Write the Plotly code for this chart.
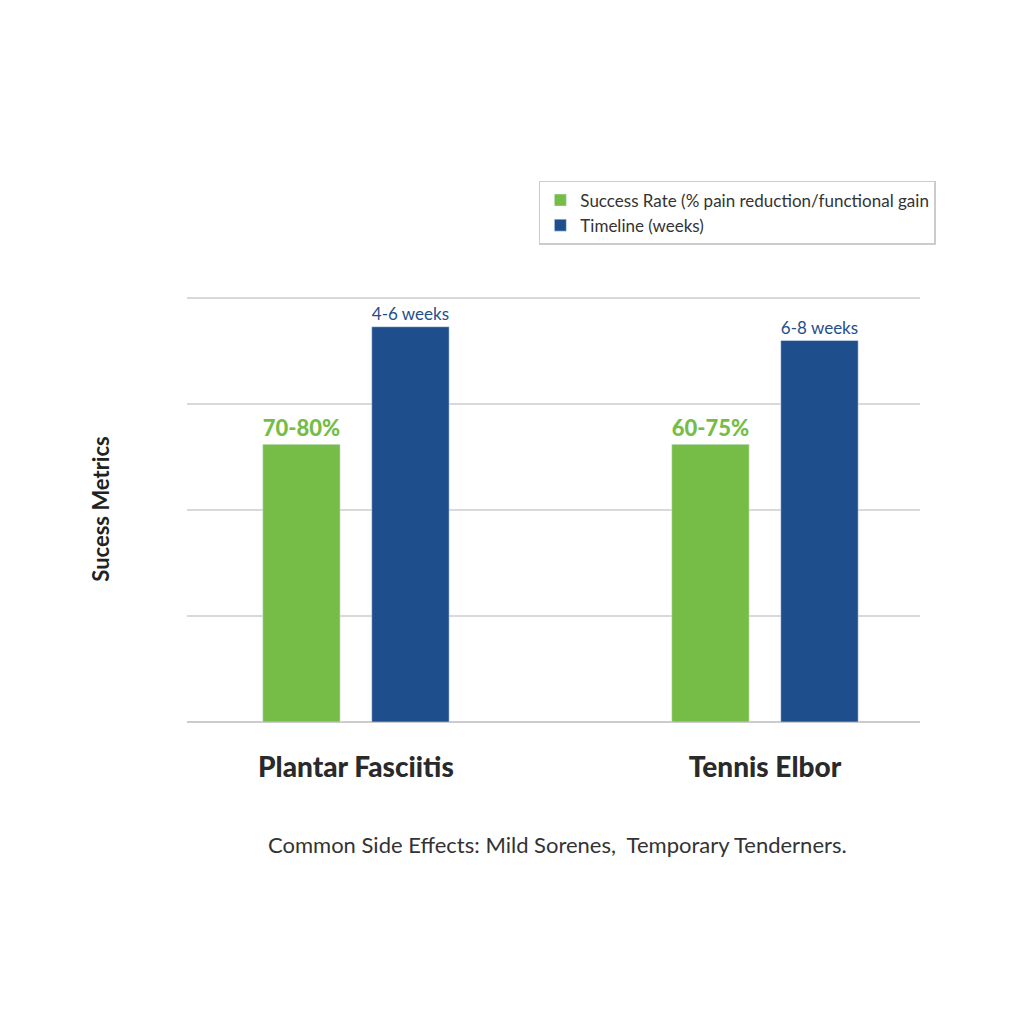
import plotly.graph_objects as go

conditions = ["Plantar Fasciitis", "Tennis Elbor"]
success_vals = [2.62, 2.62]
success_labels = ["70-80%", "60-75%"]
timeline_vals = [3.73, 3.6]
timeline_labels = ["4-6 weeks", "6-8 weeks"]

green = "#76bd47"
blue = "#1f4e8c"

fig = go.Figure()
fig.add_trace(go.Bar(x=conditions, y=success_vals, name="Success Rate (% pain reduction/functional gain",
                     marker_color=green, text=success_labels, textposition="outside",
                     textfont=dict(color=green, size=22, family="Lato Black"), cliponaxis=False))
fig.add_trace(go.Bar(x=conditions, y=timeline_vals, name="Timeline (weeks)",
                     marker_color=blue, text=timeline_labels, textposition="outside",
                     textfont=dict(color=blue, size=20, family="Lato"), cliponaxis=False))

fig.update_layout(
    width=1024, height=1024,
    paper_bgcolor="white", plot_bgcolor="white",
    font=dict(family="Lato", color="#333333"),
    margin=dict(l=179, r=112, t=288, b=310),
    barmode="group", bargap=0.467, bargroupgap=0.29,
    showlegend=True,
    legend=dict(x=0.48, y=1.27, xanchor="left", yanchor="top",
                bordercolor="#cccccc", borderwidth=1.5, font=dict(size=17, color="#333333"),
                tracegroupgap=6),
    xaxis=dict(range=[-0.413, 1.379], showgrid=False, showline=False, ticks="",
               ticklabelstandoff=26,
               tickfont=dict(size=28, color="#2a2a2a", family="Lato Black")),
    yaxis=dict(range=[0, 4.02], tickvals=[1, 2, 3, 4], showticklabels=False, gridcolor="#d9d9d9",
               gridwidth=1.5, zeroline=True, zerolinecolor="#cccccc", zerolinewidth=2,
               title=dict(text="<b>Sucess Metrics</b>", font=dict(size=22, color="#222222"), standoff=70)),
    annotations=[dict(text="Common Side Effects: Mild Sorenes,  Temporary Tenderners.",
                      x=0.505, y=-0.325, xref="paper", yref="paper", showarrow=False,
                      xanchor="center", font=dict(size=22, color="#333333"))],
)
fig.write_html("out.html")
